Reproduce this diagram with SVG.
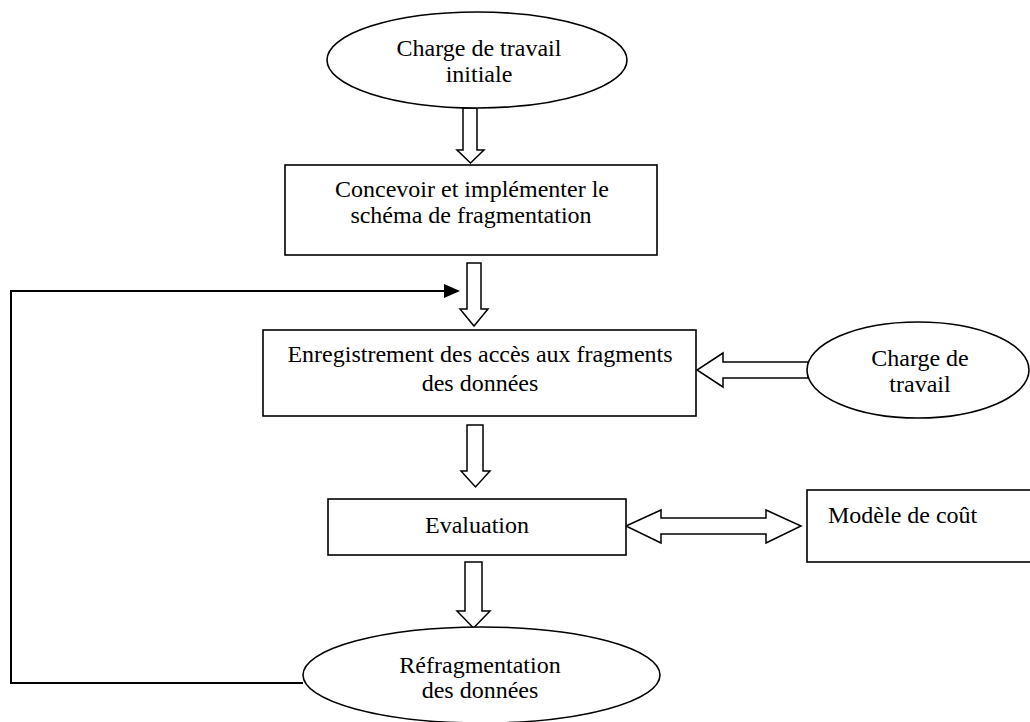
<svg xmlns="http://www.w3.org/2000/svg" width="1030" height="722" viewBox="0 0 1030 722">
<style>
.shape{fill:#fff;stroke:#000;stroke-width:1.6}
.arr{fill:#fff;stroke:#000;stroke-width:1.5;stroke-linejoin:miter}
.lbl{font-family:"Liberation Serif","Times New Roman",serif;font-size:24px;fill:#000}
.c{text-anchor:middle}
.line{fill:none;stroke:#000;stroke-width:2}
</style>
<defs>
<marker id="ah" markerWidth="10" markerHeight="10" refX="9" refY="5" orient="auto" markerUnits="userSpaceOnUse" viewBox="0 0 10 10">
<path d="M0,0 L10,5 L0,10 Z" fill="#000"/>
</marker>
</defs>
<rect width="1030" height="722" fill="#fff"/>
<g id="connectors">
<polyline class="line" points="303,683 11,683 11,291 446,291"/>
<path d="M444,284 L460,291 L444,298 Z" fill="#000"/>
<path class="arr" d="M463,108 L477,108 L477,150 L484,150 L470.5,163 L457,150 L463,150 Z"/>
<path class="arr" d="M467,263 L481,263 L481,309 L488,309 L474,326 L460,309 L467,309 Z"/>
<path class="arr" d="M467,425 L483,425 L483,471 L490,471 L475.5,487 L461,471 L467,471 Z"/>
<path class="arr" d="M465,562 L482,562 L482,611 L490,611 L473.5,628 L457,611 L465,611 Z"/>
<path class="arr" d="M808,362 L723,362 L723,353 L697,370 L723,387 L723,378 L808,378 Z"/>
<path class="arr" d="M626,526 L661,510 L661,518 L766,518 L766,510 L801,526 L766,543 L766,534 L661,534 L661,543 Z"/>
</g>
<g id="node-initial">
<ellipse class="shape" cx="477" cy="60" rx="150" ry="48"/>
<text class="lbl c" x="479" y="56">Charge de travail</text>
<text class="lbl c" x="479" y="82">initiale</text>
</g>
<g id="node-concevoir">
<rect class="shape" x="285" y="165" width="372" height="90"/>
<text class="lbl c" x="472" y="197">Concevoir et implémenter le</text>
<text class="lbl c" x="471" y="223">schéma de fragmentation</text>
</g>
<g id="node-enregistrement">
<rect class="shape" x="263" y="330" width="433" height="86"/>
<text class="lbl c" x="480" y="362">Enregistrement des accès aux fragments</text>
<text class="lbl c" x="480" y="391">des données</text>
</g>
<g id="node-charge">
<ellipse class="shape" cx="918" cy="370" rx="111" ry="48"/>
<text class="lbl c" x="920" y="366">Charge de</text>
<text class="lbl c" x="920" y="392">travail</text>
</g>
<g id="node-evaluation">
<rect class="shape" x="328" y="499" width="298" height="56"/>
<text class="lbl c" x="477" y="533">Evaluation</text>
</g>
<g id="node-modele">
<rect class="shape" x="807" y="490" width="226" height="72"/>
<text class="lbl" x="828" y="523">Modèle de coût</text>
</g>
<g id="node-refragmentation">
<ellipse class="shape" cx="481.5" cy="675" rx="178.5" ry="48"/>
<text class="lbl c" x="480" y="673">Réfragmentation</text>
<text class="lbl c" x="480" y="698">des données</text>
</g>
</svg>
